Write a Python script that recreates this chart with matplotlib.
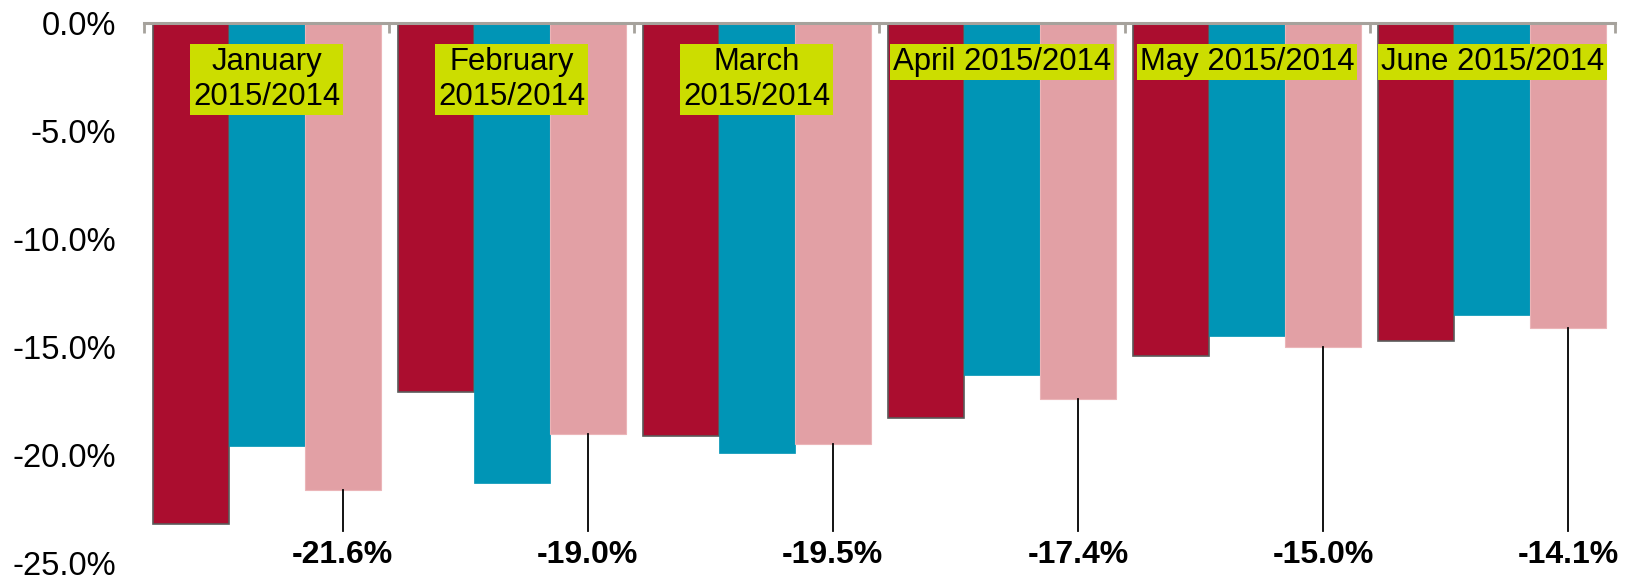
import matplotlib
matplotlib.use("Agg")
import matplotlib.pyplot as plt
import numpy as np

plt.rcParams['font.family'] = ['Liberation Sans', 'DejaVu Sans']

categories = ["January\n2015/2014", "February\n2015/2014", "March\n2015/2014",
              "April 2015/2014", "May 2015/2014", "June 2015/2014"]
series_a = [-23.2, -17.1, -19.1, -18.3, -15.4, -14.7]   # dark red
series_b = [-19.6, -21.3, -19.9, -16.3, -14.5, -13.5]   # teal
series_c = [-21.6, -19.0, -19.5, -17.4, -15.0, -14.1]   # pink (labelled)
yticks = [0, -5, -10, -15, -20, -25]

c_red, c_teal, c_pink = '#AB0D2F', '#0095B6', '#E2A0A5'
c_box = '#CCDD00'

fig = plt.figure(figsize=(16.27, 5.77), dpi=100)
ax = fig.add_axes([0.0885, 0.024, 0.904, 0.936])

x = np.arange(len(categories))
w = 0.31
ax.bar(x - w, series_a, w, color=c_red, edgecolor='#5A5A5A', linewidth=1.2, zorder=2)
ax.bar(x, series_b, w, color=c_teal, edgecolor=c_teal, linewidth=0.5, zorder=2)
ax.bar(x + w, series_c, w, color=c_pink, edgecolor='#EBB5B8', linewidth=0.8, zorder=2)

ax.set_xlim(-0.5, len(categories) - 0.5)
ax.set_ylim(-25, 0)

# category label boxes
for xi, lab in zip(x, categories):
    ax.text(xi, -1.1, lab, ha='center', va='top', fontsize=22.4,
            linespacing=1.24, zorder=4,
            bbox=dict(boxstyle='square,pad=0.1', facecolor=c_box, edgecolor='none'))

# data labels with leader lines for the pink series
for xi, v in zip(x, series_c):
    ax.plot([xi + w, xi + w], [v, -23.5], color='black', linewidth=1.3, zorder=3,
            clip_on=False)
    ax.text(xi + w, -24.6, f"{v:.1f}%", ha='center', va='center', fontsize=23,
            fontweight='bold', zorder=4, clip_on=False)

# axes styling
for s in ['top', 'left', 'right']:
    ax.spines[s].set_visible(False)
ax.spines['bottom'].set_position(('data', 0))
ax.spines['bottom'].set_color('#A6A29C')
ax.spines['bottom'].set_linewidth(2.2)
ax.spines['bottom'].set_zorder(5)
ax.set_xticks(np.arange(-0.5, len(categories), 1.0))
ax.set_xticklabels([])
ax.tick_params(axis='x', direction='out', length=7, width=2, color='#A6A29C')
ax.set_yticks(yticks)
ax.set_yticklabels([f"{t:.1f}%" for t in yticks], fontsize=23.5)
ax.tick_params(axis='y', length=0, pad=20)
ax.patch.set_visible(False)

fig.savefig('out.png', dpi=100)
